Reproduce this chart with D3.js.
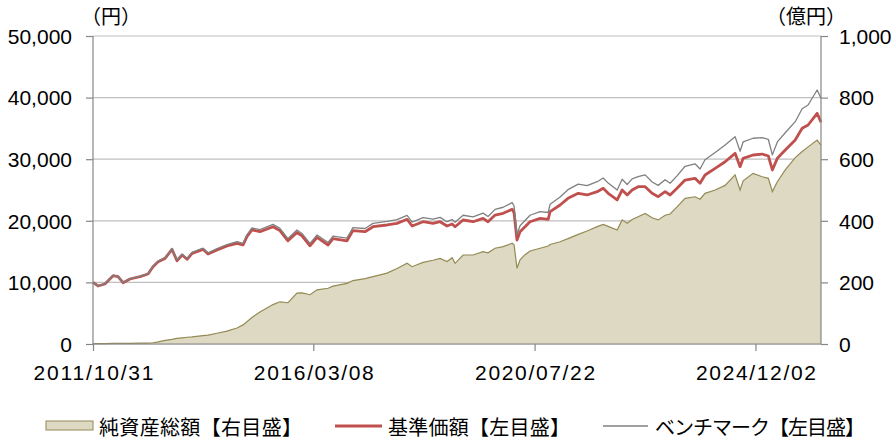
<!DOCTYPE html>
<html><head><meta charset="utf-8">
<script src="https://cdn.jsdelivr.net/npm/d3@7/dist/d3.min.js"></script>
<style>
html,body{margin:0;padding:0;background:#fff;}
svg{display:block;}
.num{font-family:"Liberation Sans",Arial,sans-serif;font-size:21px;fill:#000;}
.jp{font-family:"Noto Sans CJK JP","Noto Sans CJK SC",sans-serif;font-size:20px;fill:#000;}
</style></head><body>
<svg id="chart" width="894" height="439"></svg>
<script>
const dates = ["2011-10-31","2011-12-06","2012-01-25","2012-03-24","2012-04-29","2012-06-04","2012-07-24","2012-10-04","2012-12-01","2013-01-06",
"2013-02-12","2013-04-03","2013-05-23","2013-06-28","2013-08-04","2013-09-09","2013-10-15","2014-01-02","2014-02-07","2014-04-13",
"2014-06-24","2014-09-04","2014-10-18","2014-11-15","2014-12-21","2015-02-17","2015-05-22","2015-07-11","2015-09-07","2015-11-11",
"2015-12-17","2016-02-13","2016-04-04","2016-06-23","2016-07-28","2016-11-06","2016-12-19","2017-03-16","2017-05-13","2017-08-22",
"2017-11-02","2018-01-14","2018-02-19","2018-05-09","2018-07-20","2018-09-09","2018-10-29","2018-12-05","2018-12-26","2019-02-22",
"2019-05-05","2019-07-16","2019-08-21","2019-10-11","2019-12-08","2020-02-11","2020-02-25","2020-03-17","2020-04-08","2020-05-14",
"2020-06-19","2020-08-31","2020-10-28","2020-11-11","2021-01-22","2021-03-20","2021-06-02","2021-08-05","2021-10-17","2021-11-29",
"2022-01-04","2022-03-10","2022-04-15","2022-05-21","2022-06-26","2022-08-08","2022-09-28","2022-11-17","2022-12-31","2023-02-19",
"2023-03-27","2023-05-16","2023-07-13","2023-09-23","2023-10-29","2023-12-04","2024-02-15","2024-04-27","2024-07-08","2024-08-13",
"2024-09-04","2024-11-15","2025-01-20","2025-03-05","2025-04-03","2025-05-09","2025-07-05","2025-09-15","2025-11-04","2025-12-17",
"2026-02-20","2026-03-20"];

const nav = [10000,9420,9740,11090,10930,9950,10550,10930,11360,12550,
13360,13900,15370,13520,14450,13750,14720,15370,14610,15260,
15910,16350,16070,17420,18510,18230,19040,18400,16750,18100,
17550,15950,17300,16070,17100,16750,18400,18230,19040,19320,
19590,20240,19160,19850,19590,19850,19160,19480,19040,20130,
19850,20400,19850,20940,21220,21870,21300,16880,18230,19040,
19850,20400,20240,21480,22560,23650,24460,24190,24730,25270,
24460,23380,25000,24190,25000,25540,25540,24460,23920,24730,
24190,25270,26620,26900,26090,27440,28520,29590,30950,28790,
30140,30680,30840,30520,28250,30140,31490,33120,35010,35550,
37450,36000];

const bench = [10000,9440,9770,11130,10970,9990,10600,10990,11430,12630,
13450,14000,15500,13650,14600,13900,14880,15560,14800,15480,
16150,16620,16350,17720,18830,18570,19420,18780,17120,18500,
17950,16330,17700,16480,17520,17200,18900,18750,19580,19900,
20200,20880,19800,20500,20270,20560,19850,20200,19760,20900,
20650,21250,20700,21860,22200,22940,22400,17800,19200,20050,
20900,21500,21350,22700,23850,25050,25950,25700,26350,26950,
26120,25000,26750,25900,26800,27160,27450,26300,25750,26650,
26100,27300,28850,29250,28400,29900,31100,32300,33660,31300,
32800,33400,33500,33200,30700,32800,34300,36090,38200,38800,
41230,39890];

const aum = [1,1,1,2,2,2,2,3,3,4,
7,12,15,18,20,22,23,27,29,35,
42,52,62,72,86,104,128,137,134,165,
166,160,176,181,188,197,206,212,219,230,
245,262,251,265,272,278,268,280,262,289,
289,300,296,311,316,327,322,246,273,290,
302,311,318,323,332,342,356,367,381,388,
382,370,403,392,404,413,424,410,403,418,
422,445,473,478,470,489,500,515,549,500,
530,554,543,538,495,527,565,605,625,640,
662,646];

const leftTicks = [0,10000,20000,30000,40000,50000];
const rightTicks = [0,200,400,600,800,1000];
const xTickLabels = ["2011/10/31","2016/03/08","2020/07/22","2024/12/02"];
const legendLabels = ["純資産総額【右目盛】","基準価額【左目盛】","ベンチマーク【左目盛】"];
const leftUnit = "（円）";
const rightUnit = "（億円）";

const parse = d3.timeParse("%Y-%m-%d");
const parseTick = d3.timeParse("%Y/%m/%d");
const data = dates.map((d,i)=>({date:parse(d), nav:nav[i], bench:bench[i], aum:aum[i]}));

const L=93, R=821, T=36, B=344;
const svg = d3.select("#chart");

const x = d3.scaleTime().domain([parse("2011-10-31"), parse("2026-03-20")]).range([L,R]);
const yL = d3.scaleLinear().domain([0,50000]).range([B,T]);
const yR = d3.scaleLinear().domain([0,1000]).range([B,T]);

// gridlines
svg.append("g").selectAll("line").data(leftTicks).join("line")
  .attr("x1",L).attr("x2",R).attr("y1",d=>yL(d)).attr("y2",d=>yL(d))
  .attr("stroke","#bfbfbf").attr("stroke-width",1.2);

// area
const area = d3.area().x(d=>x(d.date)).y0(yR(0)).y1(d=>yR(d.aum));
svg.append("path").datum(data).attr("d",area).attr("fill","#ddd9c3");
svg.append("path").datum(data).attr("d",d3.line().x(d=>x(d.date)).y(d=>yR(d.aum)))
  .attr("fill","none").attr("stroke","#948a54").attr("stroke-width",1.2);

// NAV
svg.append("path").datum(data).attr("d",d3.line().x(d=>x(d.date)).y(d=>yL(d.nav)))
  .attr("fill","none").attr("stroke","#c0504d").attr("stroke-width",2.8).attr("stroke-linejoin","round");
// Benchmark
svg.append("path").datum(data).attr("d",d3.line().x(d=>x(d.date)).y(d=>yL(d.bench)))
  .attr("fill","none").attr("stroke","#808080").attr("stroke-width",1.3).attr("stroke-linejoin","round");

// axes
const axL = svg.append("g").attr("transform",`translate(${L},0)`)
  .call(d3.axisLeft(yL).tickValues(leftTicks).tickSize(7).tickPadding(14).tickFormat(d3.format(",")));
const axR = svg.append("g").attr("transform",`translate(${R},0)`)
  .call(d3.axisRight(yR).tickValues(rightTicks).tickSize(7).tickPadding(11).tickFormat(d3.format(",")));
const axB = svg.append("g").attr("transform",`translate(0,${B})`)
  .call(d3.axisBottom(x).tickValues(xTickLabels.map(parseTick)).tickSize(7).tickPadding(8)
    .tickFormat((d,i)=>xTickLabels[i]));
[axL,axR,axB].forEach(a=>{
  a.select(".domain").attr("stroke","#868686").attr("stroke-width",1.2);
  a.selectAll(".tick line").attr("stroke","#868686").attr("stroke-width",1.2);
  a.selectAll("text").attr("class","num").attr("fill","#000").style("font-size","21px")
   .style("font-family","'Liberation Sans',Arial,sans-serif");
});
axL.select(".domain").attr("d",`M0,${B}V${T}`);
axR.select(".domain").attr("d",`M0,${B}V${T}`);
axB.select(".domain").attr("d",`M${L},0H${R}`);
axB.selectAll("text").attr("dy","0").attr("y",36)
  .attr("textLength",120).attr("lengthAdjust","spacing");
axL.selectAll("text").attr("dy","0.35em");
axR.selectAll("text").attr("dy","0.35em");

// units
svg.append("text").attr("class","jp").attr("x",111).attr("y",15).attr("text-anchor","middle")
  .attr("dominant-baseline","central").text(leftUnit);
svg.append("text").attr("class","jp").attr("x",806).attr("y",15).attr("text-anchor","middle")
  .attr("dominant-baseline","central").text(rightUnit);

// legend
const ly = 426;
const lg = svg.append("g");
lg.append("rect").attr("x",46).attr("y",421).attr("width",47).attr("height",9)
  .attr("fill","#ddd9c3").attr("stroke","#948a54").attr("stroke-width",1);
lg.append("text").attr("class","jp").attr("x",99).attr("y",ly).attr("dominant-baseline","central")
  .attr("textLength",203).attr("lengthAdjust","spacing").text(legendLabels[0]);
lg.append("line").attr("x1",335).attr("x2",382).attr("y1",ly).attr("y2",ly)
  .attr("stroke","#c0504d").attr("stroke-width",2.8);
lg.append("text").attr("class","jp").attr("x",388).attr("y",ly).attr("dominant-baseline","central")
  .attr("textLength",182).attr("lengthAdjust","spacing").text(legendLabels[1]);
lg.append("line").attr("x1",603).attr("x2",648).attr("y1",ly).attr("y2",ly)
  .attr("stroke","#808080").attr("stroke-width",1.3);
lg.append("text").attr("class","jp").attr("x",655).attr("y",ly).attr("dominant-baseline","central")
  .attr("textLength",210).attr("lengthAdjust","spacing").text(legendLabels[2]);
</script>
</body></html>
